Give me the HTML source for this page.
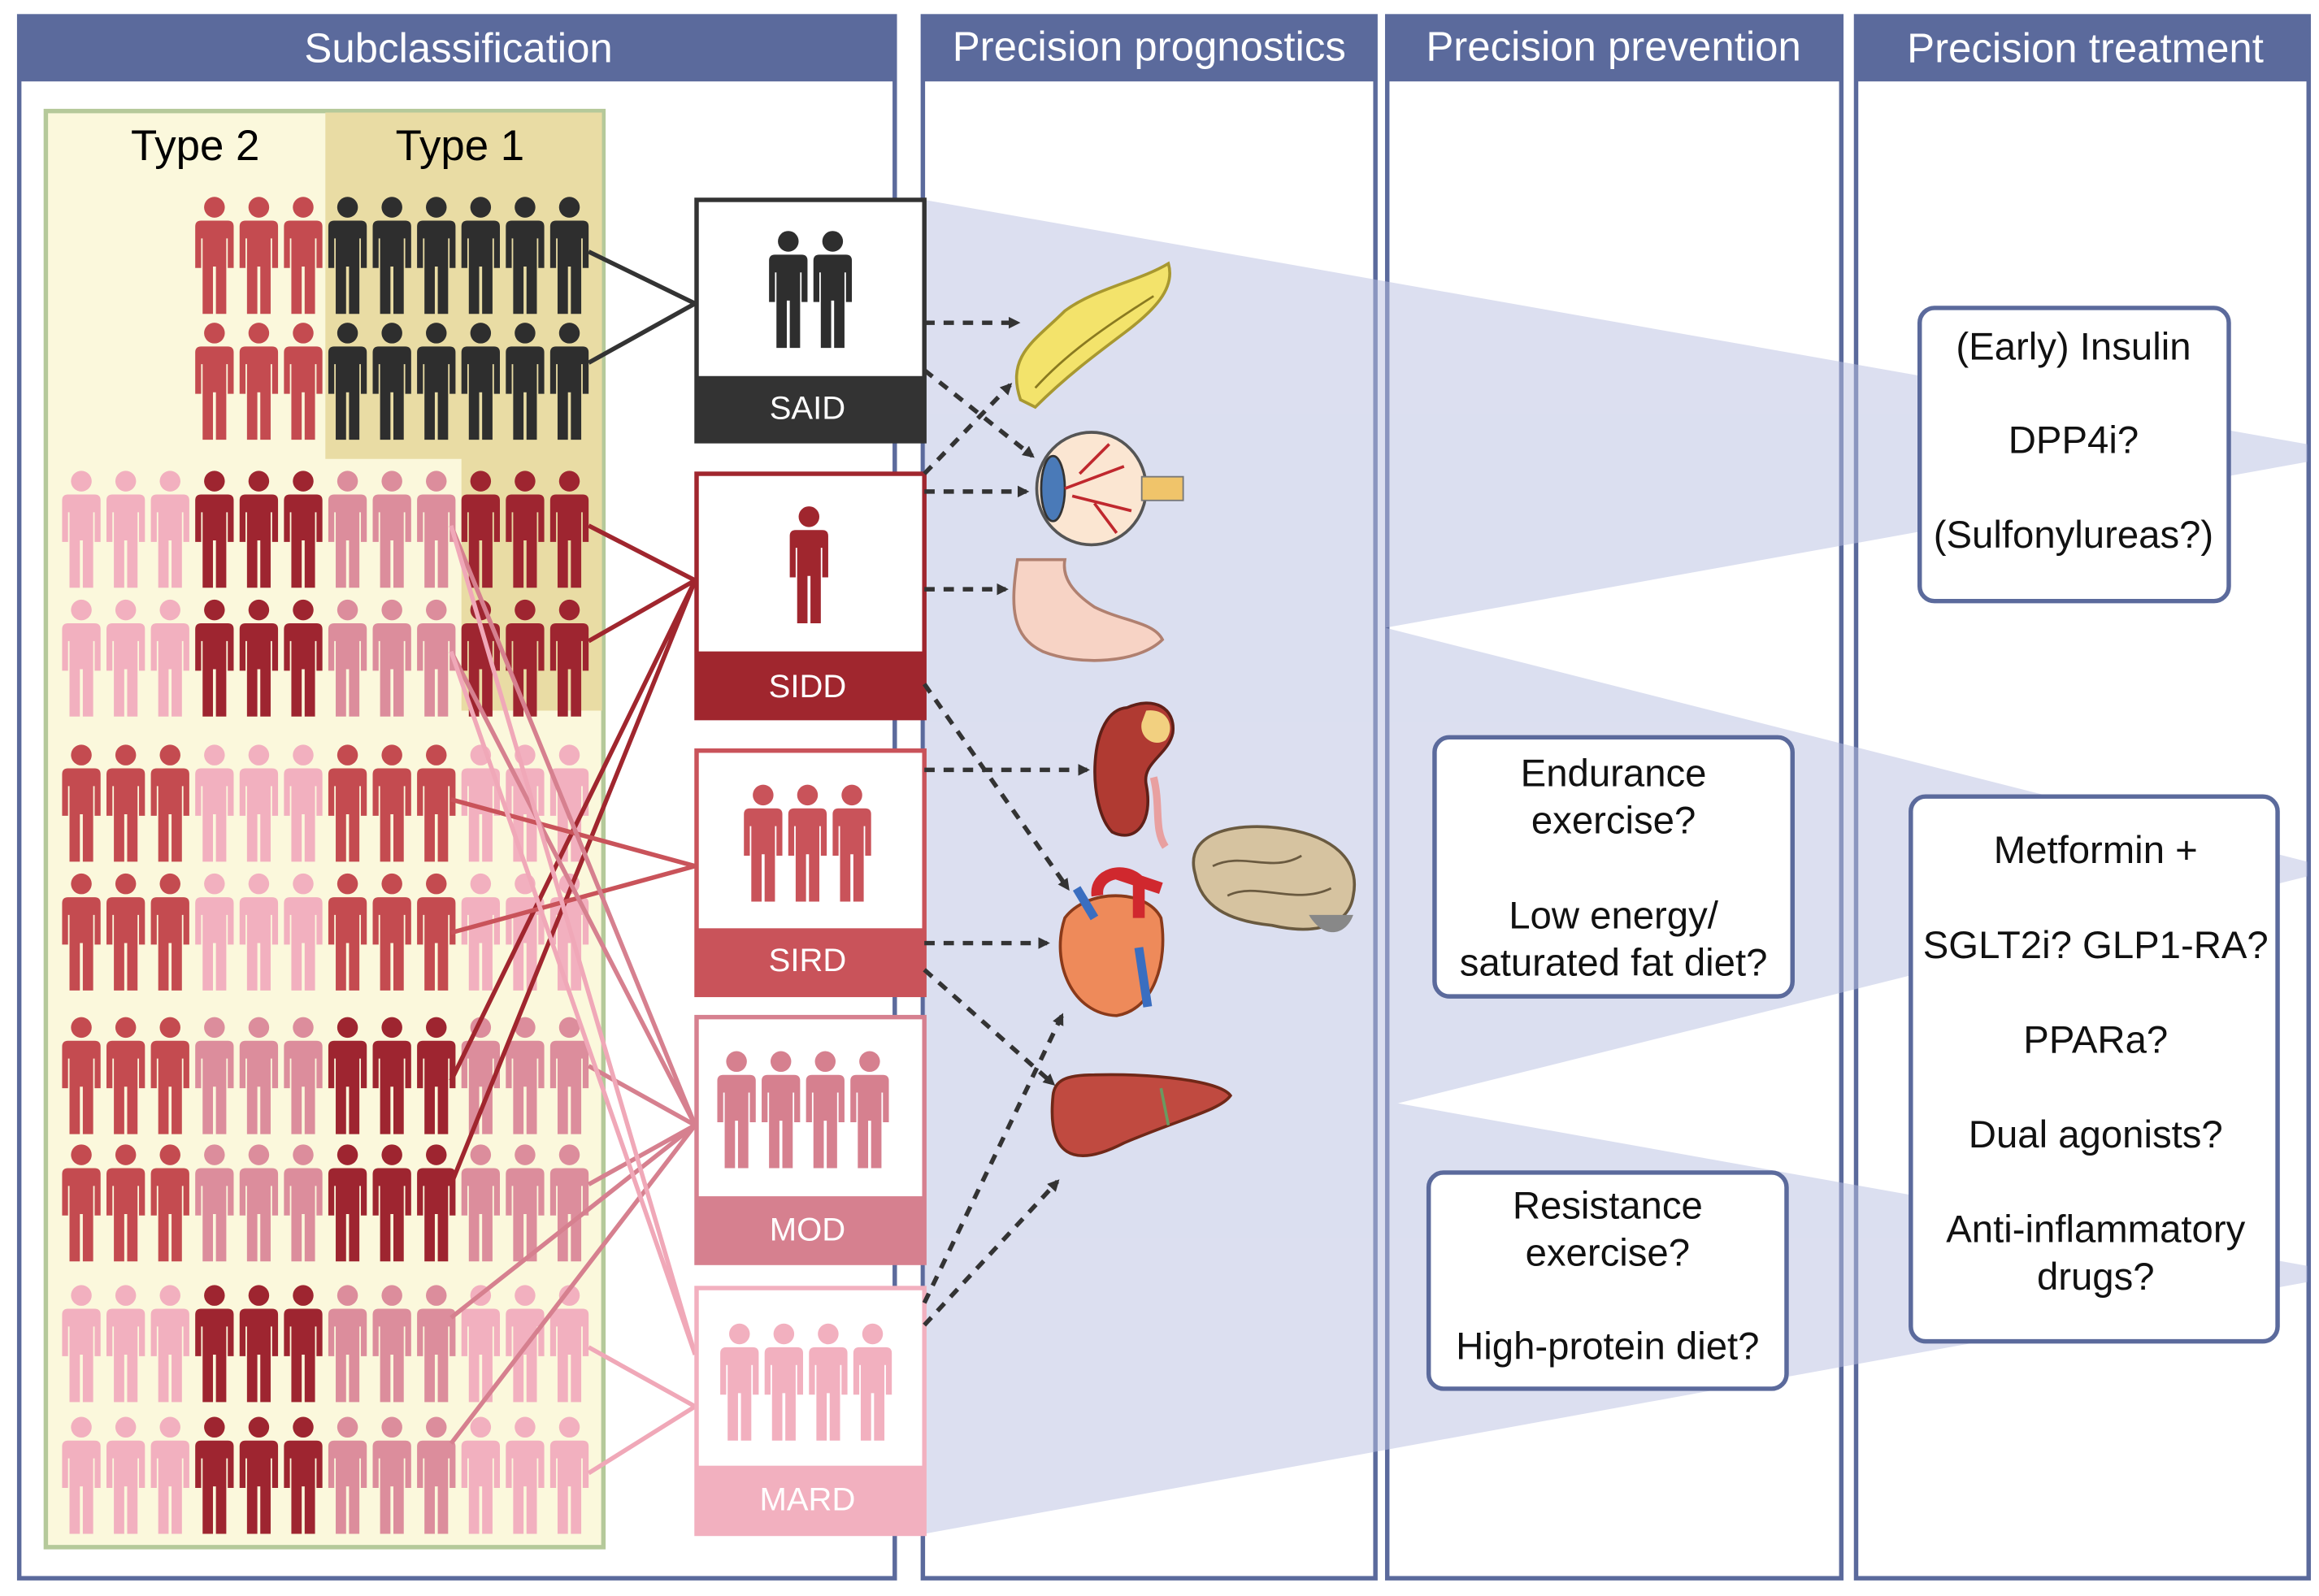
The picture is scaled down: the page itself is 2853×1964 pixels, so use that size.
<!DOCTYPE html>
<html><head><meta charset="utf-8"><style>
html,body{margin:0;padding:0;background:#fff}
svg{display:block}
text{font-family:"Liberation Sans",Arial,sans-serif}
</style></head><body>
<svg width="2853" height="1964" viewBox="0 0 1568 1078" preserveAspectRatio="none" xmlns="http://www.w3.org/2000/svg">
<defs>
<symbol id="p" viewBox="-14 0 28 80" overflow="visible">
<circle cx="0" cy="8" r="7"/>
<path d="M-9,17 h18 q4,0 4,4 v28 h-4 v-20 h-1 v51 h-7 v-32 h-2 v32 h-7 v-51 h-1 v20 h-4 v-28 q0,-4 4,-4 z"/>
</symbol>
<marker id="ah" markerWidth="8" markerHeight="8" refX="6" refY="4" orient="auto" markerUnits="userSpaceOnUse"><path d="M0,0 L8,4 L0,8 z" fill="#333"/></marker>
</defs>
<rect width="1568" height="1078" fill="#fff"/>
<g fill="none" stroke="#5b6a9c" stroke-width="3">
<rect x="13" y="11" width="592" height="1055"/>
<rect x="624" y="11" width="306" height="1055"/>
<rect x="938" y="11" width="307" height="1055"/>
<rect x="1255" y="11" width="306" height="1055"/>
</g>
<g fill="#5b6a9c">
<rect x="13" y="11" width="592" height="44"/>
<rect x="624" y="11" width="306" height="44"/>
<rect x="938" y="11" width="307" height="44"/>
<rect x="1255" y="11" width="306" height="44"/>
</g>
<g fill="#fff" font-size="28" text-anchor="middle">
<text x="310" y="42">Subclassification</text>
<text x="777" y="41">Precision prognostics</text>
<text x="1091" y="41">Precision prevention</text>
<text x="1410" y="42">Precision treatment</text>
</g>
<g fill="#b9c0e2" opacity="0.5">
<polygon points="625,135 1560,300 1560,312 625,480"/>
<polygon points="625,345 1560,582 1560,592 625,825"/>
<polygon points="625,688 1560,855 1560,866 625,1036"/>
</g>
<rect x="31" y="75" width="377" height="970" fill="#fbf8dc" stroke="#b5c99a" stroke-width="3"/>
<path d="M220,76 H407 V480 H312 V310 H220 Z" fill="#e9dca4"/>
<text x="132" y="108" font-size="29" text-anchor="middle">Type 2</text>
<text x="311" y="108" font-size="29" text-anchor="middle">Type 1</text>
<g>
<g fill="#c44b50"><use href="#p" x="131" y="132" width="28" height="80"/><use href="#p" x="161" y="132" width="28" height="80"/><use href="#p" x="191" y="132" width="28" height="80"/>
<use href="#p" x="131" y="217" width="28" height="80"/><use href="#p" x="161" y="217" width="28" height="80"/><use href="#p" x="191" y="217" width="28" height="80"/></g>
<g fill="#2e2e2e">
<use href="#p" x="221" y="132" width="28" height="80"/><use href="#p" x="251" y="132" width="28" height="80"/><use href="#p" x="281" y="132" width="28" height="80"/><use href="#p" x="311" y="132" width="28" height="80"/><use href="#p" x="341" y="132" width="28" height="80"/><use href="#p" x="371" y="132" width="28" height="80"/>
<use href="#p" x="221" y="217" width="28" height="80"/><use href="#p" x="251" y="217" width="28" height="80"/><use href="#p" x="281" y="217" width="28" height="80"/><use href="#p" x="311" y="217" width="28" height="80"/><use href="#p" x="341" y="217" width="28" height="80"/><use href="#p" x="371" y="217" width="28" height="80"/></g>
</g>
<g>
<g fill="#f2b0bf"><use href="#p" x="41" y="317" width="28" height="80"/><use href="#p" x="71" y="317" width="28" height="80"/><use href="#p" x="101" y="317" width="28" height="80"/><use href="#p" x="41" y="404" width="28" height="80"/><use href="#p" x="71" y="404" width="28" height="80"/><use href="#p" x="101" y="404" width="28" height="80"/></g>
<g fill="#9e2530"><use href="#p" x="131" y="317" width="28" height="80"/><use href="#p" x="161" y="317" width="28" height="80"/><use href="#p" x="191" y="317" width="28" height="80"/><use href="#p" x="131" y="404" width="28" height="80"/><use href="#p" x="161" y="404" width="28" height="80"/><use href="#p" x="191" y="404" width="28" height="80"/>
<use href="#p" x="311" y="317" width="28" height="80"/><use href="#p" x="341" y="317" width="28" height="80"/><use href="#p" x="371" y="317" width="28" height="80"/><use href="#p" x="311" y="404" width="28" height="80"/><use href="#p" x="341" y="404" width="28" height="80"/><use href="#p" x="371" y="404" width="28" height="80"/></g>
<g fill="#dc8d9c"><use href="#p" x="221" y="317" width="28" height="80"/><use href="#p" x="251" y="317" width="28" height="80"/><use href="#p" x="281" y="317" width="28" height="80"/><use href="#p" x="221" y="404" width="28" height="80"/><use href="#p" x="251" y="404" width="28" height="80"/><use href="#p" x="281" y="404" width="28" height="80"/></g>
<g fill="#c44b50"><use href="#p" x="41" y="502" width="28" height="80"/><use href="#p" x="71" y="502" width="28" height="80"/><use href="#p" x="101" y="502" width="28" height="80"/><use href="#p" x="41" y="589" width="28" height="80"/><use href="#p" x="71" y="589" width="28" height="80"/><use href="#p" x="101" y="589" width="28" height="80"/>
<use href="#p" x="221" y="502" width="28" height="80"/><use href="#p" x="251" y="502" width="28" height="80"/><use href="#p" x="281" y="502" width="28" height="80"/><use href="#p" x="221" y="589" width="28" height="80"/><use href="#p" x="251" y="589" width="28" height="80"/><use href="#p" x="281" y="589" width="28" height="80"/></g>
<g fill="#f2b0bf"><use href="#p" x="131" y="502" width="28" height="80"/><use href="#p" x="161" y="502" width="28" height="80"/><use href="#p" x="191" y="502" width="28" height="80"/><use href="#p" x="131" y="589" width="28" height="80"/><use href="#p" x="161" y="589" width="28" height="80"/><use href="#p" x="191" y="589" width="28" height="80"/>
<use href="#p" x="311" y="502" width="28" height="80"/><use href="#p" x="341" y="502" width="28" height="80"/><use href="#p" x="371" y="502" width="28" height="80"/><use href="#p" x="311" y="589" width="28" height="80"/><use href="#p" x="341" y="589" width="28" height="80"/><use href="#p" x="371" y="589" width="28" height="80"/></g>
<g fill="#c44b50"><use href="#p" x="41" y="686" width="28" height="80"/><use href="#p" x="71" y="686" width="28" height="80"/><use href="#p" x="101" y="686" width="28" height="80"/><use href="#p" x="41" y="772" width="28" height="80"/><use href="#p" x="71" y="772" width="28" height="80"/><use href="#p" x="101" y="772" width="28" height="80"/></g>
<g fill="#dc8d9c"><use href="#p" x="131" y="686" width="28" height="80"/><use href="#p" x="161" y="686" width="28" height="80"/><use href="#p" x="191" y="686" width="28" height="80"/><use href="#p" x="131" y="772" width="28" height="80"/><use href="#p" x="161" y="772" width="28" height="80"/><use href="#p" x="191" y="772" width="28" height="80"/>
<use href="#p" x="311" y="686" width="28" height="80"/><use href="#p" x="341" y="686" width="28" height="80"/><use href="#p" x="371" y="686" width="28" height="80"/><use href="#p" x="311" y="772" width="28" height="80"/><use href="#p" x="341" y="772" width="28" height="80"/><use href="#p" x="371" y="772" width="28" height="80"/></g>
<g fill="#9e2530"><use href="#p" x="221" y="686" width="28" height="80"/><use href="#p" x="251" y="686" width="28" height="80"/><use href="#p" x="281" y="686" width="28" height="80"/><use href="#p" x="221" y="772" width="28" height="80"/><use href="#p" x="251" y="772" width="28" height="80"/><use href="#p" x="281" y="772" width="28" height="80"/></g>
<g fill="#f2b0bf"><use href="#p" x="41" y="867" width="28" height="80"/><use href="#p" x="71" y="867" width="28" height="80"/><use href="#p" x="101" y="867" width="28" height="80"/><use href="#p" x="41" y="956" width="28" height="80"/><use href="#p" x="71" y="956" width="28" height="80"/><use href="#p" x="101" y="956" width="28" height="80"/>
<use href="#p" x="311" y="867" width="28" height="80"/><use href="#p" x="341" y="867" width="28" height="80"/><use href="#p" x="371" y="867" width="28" height="80"/><use href="#p" x="311" y="956" width="28" height="80"/><use href="#p" x="341" y="956" width="28" height="80"/><use href="#p" x="371" y="956" width="28" height="80"/></g>
<g fill="#9e2530"><use href="#p" x="131" y="867" width="28" height="80"/><use href="#p" x="161" y="867" width="28" height="80"/><use href="#p" x="191" y="867" width="28" height="80"/><use href="#p" x="131" y="956" width="28" height="80"/><use href="#p" x="161" y="956" width="28" height="80"/><use href="#p" x="191" y="956" width="28" height="80"/></g>
<g fill="#dc8d9c"><use href="#p" x="221" y="867" width="28" height="80"/><use href="#p" x="251" y="867" width="28" height="80"/><use href="#p" x="281" y="867" width="28" height="80"/><use href="#p" x="221" y="956" width="28" height="80"/><use href="#p" x="251" y="956" width="28" height="80"/><use href="#p" x="281" y="956" width="28" height="80"/></g>
</g>
<g fill="none" stroke-width="3">
<path d="M398,170 L470,205 L398,245" stroke="#333"/>
<path d="M398,355 L470,392 L398,433" stroke="#a0262e"/>
<path d="M305,730 L470,392 M305,800 L470,392" stroke="#a0262e"/>
<path d="M305,540 L470,585 L305,630" stroke="#c9535a"/>
<path d="M398,720 L470,760 L398,800 M305,355 L470,760 M305,440 L470,760 M305,890 L470,760 M305,975 L470,760" stroke="#d6808f"/>
<path d="M398,910 L470,950 L398,995 M305,355 L470,915 M305,440 L470,915" stroke="#f0a8b8"/>
</g>
<g stroke-width="3">
<rect x="471" y="135" width="154" height="163" fill="#fff" stroke="#333"/><rect x="471" y="254" width="154" height="44" fill="#333"/>
<rect x="471" y="320" width="154" height="165" fill="#fff" stroke="#a0262e"/><rect x="471" y="440" width="154" height="45" fill="#a0262e"/>
<rect x="471" y="507" width="154" height="165" fill="#fff" stroke="#c9535a"/><rect x="471" y="627" width="154" height="45" fill="#c9535a"/>
<rect x="471" y="687" width="154" height="166" fill="#fff" stroke="#d6808f"/><rect x="471" y="808" width="154" height="45" fill="#d6808f"/>
<rect x="471" y="870" width="154" height="166" fill="#fff" stroke="#f2b0bf"/><rect x="471" y="990" width="154" height="46" fill="#f2b0bf"/>
</g>
<g fill="#2e2e2e"><use href="#p" x="519" y="155" width="28" height="80"/><use href="#p" x="549" y="155" width="28" height="80"/></g>
<g fill="#a0262e"><use href="#p" x="533" y="341" width="28" height="80"/></g>
<g fill="#c9535a"><use href="#p" x="502" y="529" width="28" height="80"/><use href="#p" x="532" y="529" width="28" height="80"/><use href="#p" x="562" y="529" width="28" height="80"/></g>
<g fill="#d6808f"><use href="#p" x="484" y="709" width="28" height="80"/><use href="#p" x="514" y="709" width="28" height="80"/><use href="#p" x="544" y="709" width="28" height="80"/><use href="#p" x="574" y="709" width="28" height="80"/></g>
<g fill="#f2b0bf"><use href="#p" x="486" y="893" width="28" height="80"/><use href="#p" x="516" y="893" width="28" height="80"/><use href="#p" x="546" y="893" width="28" height="80"/><use href="#p" x="576" y="893" width="28" height="80"/></g>
<g fill="#fff" font-size="22" text-anchor="middle">
<text x="546" y="283">SAID</text><text x="546" y="471">SIDD</text><text x="546" y="656">SIRD</text><text x="546" y="838">MOD</text><text x="546" y="1020">MARD</text>
</g>
<path d="M690,270 C680,240 700,230 720,210 C740,195 770,190 790,178 C795,195 780,210 760,225 C740,240 720,255 700,275 Z" fill="#f3e36b" stroke="#a89830" stroke-width="2"/>
<path d="M700,262 C720,240 745,222 780,200" fill="none" stroke="#8a7a20" stroke-width="1.5"/>
<ellipse cx="738" cy="330" rx="37" ry="38" fill="#fbe6d2" stroke="#555" stroke-width="2"/>
<ellipse cx="712" cy="330" rx="8" ry="22" fill="#4a7ab8" stroke="#333" stroke-width="1.5"/>
<path d="M720,330 L760,315 M725,335 L765,345 M730,320 L750,300 M740,340 L755,360" stroke="#c0282e" stroke-width="2"/>
<rect x="772" y="322" width="28" height="16" fill="#f0c46a" stroke="#777"/>
<path d="M688,378 C683,410 684,430 705,440 C730,450 770,448 786,432 C780,420 760,420 740,410 C725,400 718,390 720,378 Z" fill="#f7d3c5" stroke="#b08070" stroke-width="2"/>
<path d="M762,478 C735,480 735,545 752,562 C768,570 780,555 775,530 C772,515 790,510 793,495 C795,478 780,470 762,478 Z" fill="#b03a32" stroke="#602018" stroke-width="2"/>
<path d="M775,480 C790,478 795,492 788,500 C780,505 770,498 772,488 Z" fill="#f2d080"/>
<path d="M780,525 C785,545 780,560 788,572" stroke="#e8a0a0" stroke-width="5" fill="none"/>
<path d="M808,590 C800,560 840,555 870,560 C900,565 920,580 915,605 C912,625 890,632 860,625 C830,622 812,612 808,590 Z" fill="#d6c3a0" stroke="#6a5a40" stroke-width="2"/>
<path d="M820,585 C840,575 860,590 880,578 M830,605 C850,595 875,612 900,600" stroke="#6a5a40" stroke-width="1.5" fill="none"/>
<path d="M885,618 C895,635 910,632 915,618" fill="#888"/>
<path d="M720,620 C710,650 725,685 755,686 C780,682 790,650 785,620 C775,600 735,600 720,620 Z" fill="#ee8a5a" stroke="#8a3a1a" stroke-width="2"/>
<path d="M742,605 C740,590 760,585 770,595 L770,620 M755,590 L785,600" stroke="#d0282e" stroke-width="8" fill="none"/>
<path d="M728,600 L740,620 M770,640 L776,680" stroke="#3a6ec0" stroke-width="6" fill="none"/>
<path d="M712,740 C708,780 725,790 760,772 C800,755 825,750 832,740 C825,730 780,725 740,726 C720,726 713,730 712,740 Z" fill="#c04a40" stroke="#702818" stroke-width="2"/>
<path d="M785,735 L790,760" stroke="#6a9a60" stroke-width="2"/>
<g stroke="#333" stroke-width="3" stroke-dasharray="7,6" fill="none" marker-end="url(#ah)">
<path d="M625,218 L688,218"/>
<path d="M625,250 L698,308"/>
<path d="M625,320 L683,260"/>
<path d="M625,332 L694,332"/>
<path d="M625,398 L680,398"/>
<path d="M625,520 L735,520"/>
<path d="M625,462 L722,600"/>
<path d="M625,637 L708,637"/>
<path d="M625,655 L712,732"/>
<path d="M625,880 L718,686"/>
<path d="M625,895 L715,798"/>
</g>
<g fill="#fff" stroke="#5b6a9c" stroke-width="3">
<rect x="1298" y="208" width="209" height="198" rx="10"/>
<rect x="1292" y="538" width="248" height="368" rx="10"/>
<rect x="970" y="498" width="242" height="175" rx="10"/>
<rect x="966" y="792" width="242" height="146" rx="10"/>
</g>
<g font-size="26" text-anchor="middle" fill="#111">
<text x="1402" y="243">(Early) Insulin</text>
<text x="1402" y="306">DPP4i?</text>
<text x="1402" y="370">(Sulfonylureas?)</text>
<text x="1417" y="583">Metformin +</text>
<text x="1417" y="647">SGLT2i? GLP1-RA?</text>
<text x="1417" y="711">PPARa?</text>
<text x="1417" y="775">Dual agonists?</text>
<text x="1417" y="839">Anti-inflammatory</text>
<text x="1417" y="871">drugs?</text>
<text x="1091" y="531">Endurance</text>
<text x="1091" y="563">exercise?</text>
<text x="1091" y="627">Low energy/</text>
<text x="1091" y="659">saturated fat diet?</text>
<text x="1087" y="823">Resistance</text>
<text x="1087" y="855">exercise?</text>
<text x="1087" y="918">High-protein diet?</text>
</g>
</svg>
</body></html>
